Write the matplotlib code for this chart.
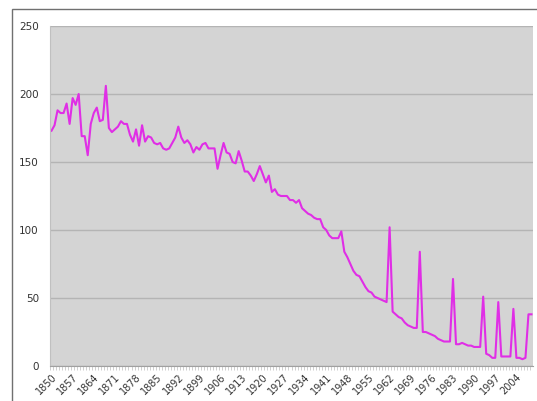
import matplotlib
matplotlib.use("Agg")
import matplotlib.pyplot as plt
from matplotlib.patches import Rectangle

# years 1850..2009, one value per year
years = list(range(1850, 2010))
values = [
    173, 177, 188, 186, 186, 193, 178, 197, 192, 200,
    169, 169, 155, 178, 186, 190, 180, 181, 206, 175,
    172, 174, 176, 180, 178, 178, 170, 165, 174, 162,
    177, 165, 169, 168, 164, 163, 164, 160, 159, 160,
    164, 168, 176, 168, 164, 166, 163, 157, 161, 159,
    163, 164, 160, 160, 160, 145, 155, 164, 157, 156,
    150, 149, 158, 151, 143, 143, 140, 136, 141, 147,
    141, 135, 140, 128, 130, 126, 125, 125, 125, 122,
    122, 120, 122, 116, 114, 112, 111, 109, 108, 108,
    102, 100, 96, 94, 94, 94, 99, 84, 80, 75,
    70, 67, 66, 62, 58, 55, 54, 51, 50, 49,
    48, 47, 102, 40, 38, 36, 35, 32, 30, 29,
    28, 28, 84, 25, 25, 24, 23, 22, 20, 19,
    18, 18, 18, 64, 16, 16, 17, 16, 15, 15,
    14, 14, 14, 51, 9, 8, 6, 6, 47, 7,
    7, 7, 7, 42, 6, 6, 5, 6, 38, 38,
]
y_ticks = [0, 50, 100, 150, 200, 250]

fig = plt.figure(figsize=(5.37, 4.01), dpi=100)
fig.patches.append(Rectangle((12 / 537, -0.1), 1.2, 1 - 8.5 / 401 + 0.1,
                             transform=fig.transFigure, fill=False,
                             edgecolor="#707070", linewidth=1.0))

ax = fig.add_axes([50 / 537, 1 - 366 / 401, 483 / 537, 340 / 401])
ax.set_facecolor("#d4d4d4")

x = list(range(len(years)))
ax.plot(x, values, color="#e02ee6", linewidth=1.5)

ax.set_xlim(-0.5, len(years) - 0.5)
ax.set_ylim(0, 250)
ax.set_yticks(y_ticks)
ax.set_yticklabels([str(v) for v in y_ticks], fontsize=7.5, color="#333333")
ax.tick_params(axis="y", length=0, pad=8)
ax.yaxis.grid(True, color="#b4b4b4", linewidth=1.0)
ax.set_axisbelow(True)

label_pos = x[::7]
ax.set_xticks(label_pos)
ax.set_xticklabels([str(years[i]) for i in label_pos], rotation=45,
                   ha="right", rotation_mode="anchor", fontsize=7, color="#333333")
ax.set_xticks([i - 0.5 for i in x], minor=True)
ax.tick_params(axis="x", which="major", length=0, pad=4)
ax.tick_params(axis="x", which="minor", length=3, color="#c8c8c8", direction="out")

for side in ["top", "right"]:
    ax.spines[side].set_visible(False)
ax.spines["left"].set_color("#c0c0c0")
ax.spines["bottom"].set_color("#a0a0a0")

fig.savefig("out.png", dpi=100, facecolor="white")
